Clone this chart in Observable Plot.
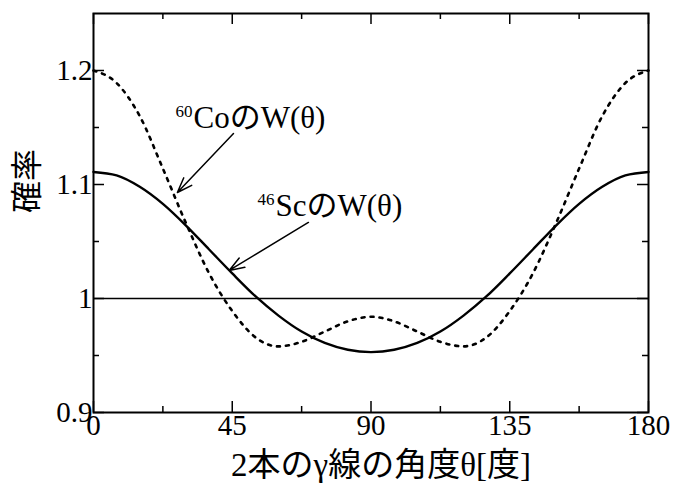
<!DOCTYPE html>
<html>
<head>
<meta charset="utf-8">
<script src="https://cdn.jsdelivr.net/npm/d3@7"></script>
<script src="https://cdn.jsdelivr.net/npm/@observablehq/plot@0.6"></script>
<style>
  html, body { margin: 0; padding: 0; background: #fff; }
  #chart svg { display: block; background: #fff; }
</style>
</head>
<body>
<div id="chart"></div>
<script>
// Angles (degrees)
const angles = [0, 7.5, 15, 22.5, 30, 37.5, 45, 52.5, 60, 67.5, 75, 82.5, 90,
  97.5, 105, 112.5, 120, 127.5, 135, 142.5, 150, 157.5, 165, 172.5, 180];
// 60Co W(θ) (dotted curve)
const coValues = [1.200, 1.189, 1.160, 1.114, 1.066, 1.022, 0.989, 0.966, 0.958, 0.962, 0.971, 0.980, 0.984,
  0.980, 0.971, 0.962, 0.958, 0.966, 0.989, 1.022, 1.066, 1.114, 1.160, 1.189, 1.200];
// 46Sc W(θ) (solid curve)
const scValues = [1.111, 1.108, 1.098, 1.083, 1.064, 1.043, 1.022, 1.002, 0.985, 0.971, 0.961, 0.955, 0.953,
  0.955, 0.961, 0.971, 0.985, 1.002, 1.022, 1.043, 1.064, 1.083, 1.098, 1.108, 1.111];

const xMajor = [0, 45, 90, 135, 180];
const xMinor = [22.5, 67.5, 112.5, 157.5];
const yMajor = [0.9, 1.0, 1.1, 1.2];
const yMinor = [0.95, 1.05, 1.15];

// Annotations (data coordinates)
const labels = [
  {sup: "60", main: "CoのW(θ)", x: 26.6, y: 1.150},
  {sup: "46", main: "ScのW(θ)", x: 53.2, y: 1.072}
];
const arrows = [
  {x1: 45.4, y1: 1.1447, x2: 27.2, y2: 1.093},
  {x1: 69.7, y1: 1.0667, x2: 44.0, y2: 1.0246}
];
const xLabel = "2本のγ線の角度θ[度]";
const yLabel = "確率";

const co = angles.map((a, i) => ({angle: a, w: coValues[i]}));
const sc = angles.map((a, i) => ({angle: a, w: scValues[i]}));

const FONT = "'Liberation Serif', 'Times New Roman', 'Noto Sans CJK JP', serif";

const chart = Plot.plot({
  width: 674,
  height: 487,
  marginLeft: 93,
  marginRight: 26,
  marginTop: 13,
  marginBottom: 75,
  style: {fontFamily: FONT, color: "#000", background: "#fff"},
  x: {domain: [0, 180]},
  y: {domain: [0.9, 1.25]},
  marks: [
    Plot.ruleY([1], {stroke: "#000", strokeWidth: 1.5}),
    Plot.line(co, {x: "angle", y: "w", curve: "monotone-x", stroke: "#000", strokeWidth: 2.6, strokeDasharray: "3,6"}),
    Plot.line(sc, {x: "angle", y: "w", curve: "monotone-x", stroke: "#000", strokeWidth: 2.4}),
    // inward ticks, bottom/top
    Plot.ruleX(xMajor, {x: d => d, insetTop: 399 - 11, stroke: "#000", strokeWidth: 1.5}),
    Plot.ruleX(xMajor, {x: d => d, insetBottom: 399 - 11, stroke: "#000", strokeWidth: 1.5}),
    Plot.ruleX(xMinor, {x: d => d, insetTop: 399 - 6, stroke: "#000", strokeWidth: 1.5}),
    Plot.ruleX(xMinor, {x: d => d, insetBottom: 399 - 6, stroke: "#000", strokeWidth: 1.5}),
    // inward ticks, left/right
    Plot.ruleY(yMajor, {y: d => d, insetRight: 555 - 11, stroke: "#000", strokeWidth: 1.5}),
    Plot.ruleY(yMajor, {y: d => d, insetLeft: 555 - 11, stroke: "#000", strokeWidth: 1.5}),
    Plot.ruleY(yMinor, {y: d => d, insetRight: 555 - 6, stroke: "#000", strokeWidth: 1.5}),
    Plot.ruleY(yMinor, {y: d => d, insetLeft: 555 - 6, stroke: "#000", strokeWidth: 1.5}),
    Plot.frame({stroke: "#000", strokeWidth: 2}),
    Plot.axisX(xMajor, {anchor: "bottom", tickSize: 0, tickPadding: 2, fontSize: 29, label: null, tickFormat: d => String(d)}),
    Plot.axisY(yMajor, {anchor: "left", tickSize: 0, tickPadding: 1, fontSize: 29, label: null, tickFormat: d => d === 1 ? "1" : d.toFixed(1)}),
    Plot.arrow(arrows, {x1: "x1", y1: "y1", x2: "x2", y2: "y2", stroke: "#000", strokeWidth: 1.5, headLength: 16, headAngle: 40, bend: 0}),
    Plot.text(labels, {x: "x", y: "y", text: "sup", textAnchor: "start", lineAnchor: "bottom", dy: -11, fontSize: 17, fill: "#000"}),
    Plot.text(labels, {x: "x", y: "y", text: "main", textAnchor: "start", lineAnchor: "bottom", dx: 18, fontSize: 31, fill: "#000"}),
    Plot.text([xLabel], {frameAnchor: "bottom", dx: 10, dy: 63, fontSize: 33, fill: "#000"}),
    Plot.text([yLabel], {frameAnchor: "left", dx: -66, rotate: -90, fontSize: 32, fill: "#000"})
  ]
});
document.getElementById("chart").appendChild(chart);
</script>
</body>
</html>
